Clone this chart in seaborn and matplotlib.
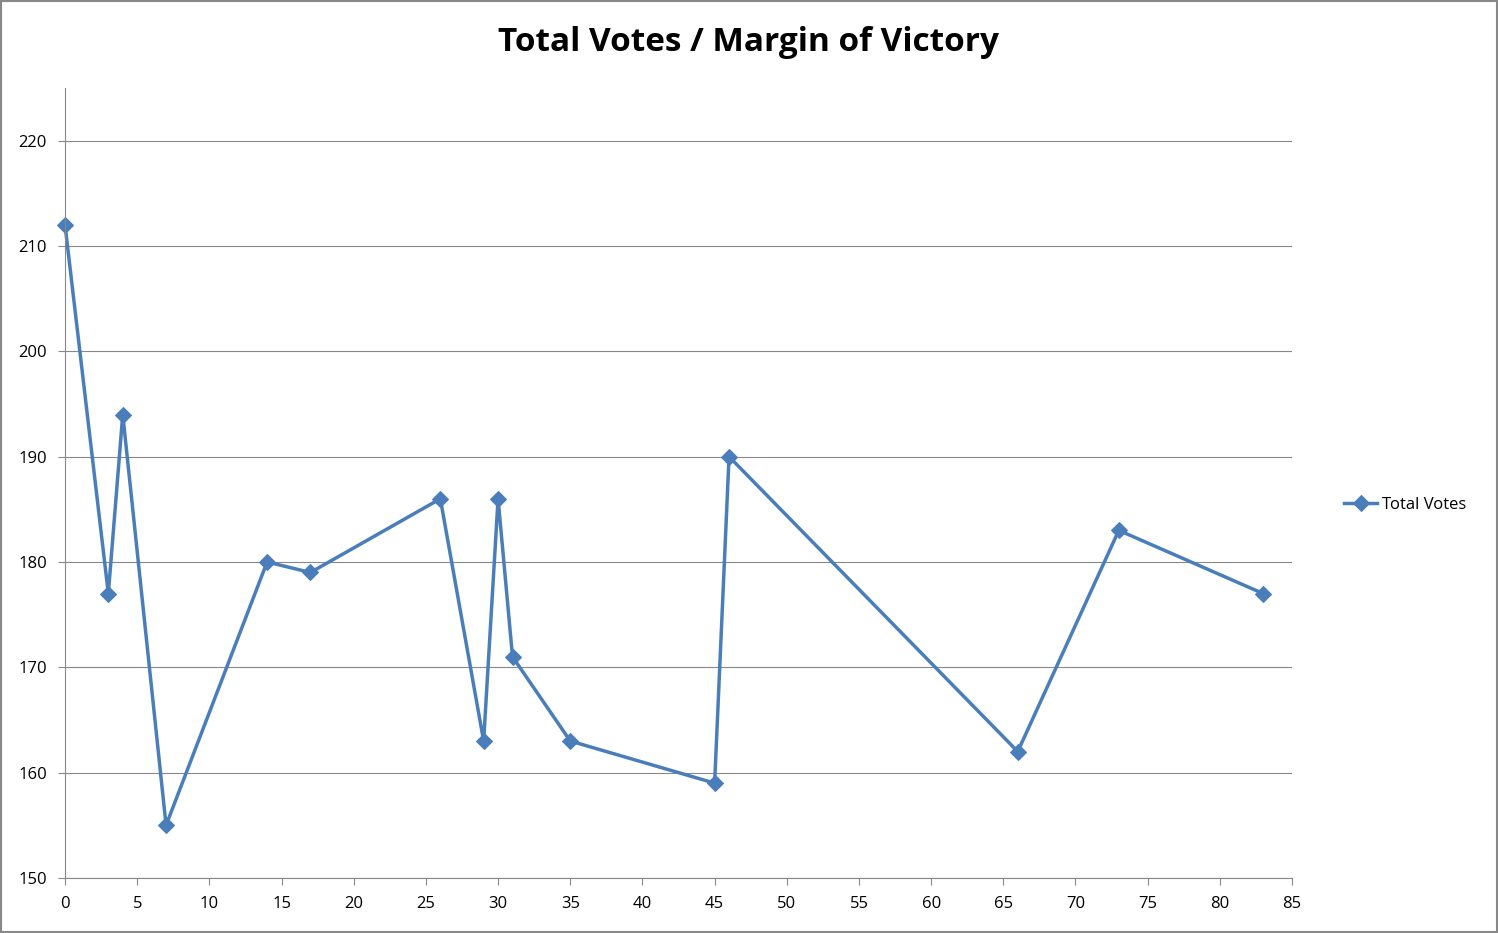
import matplotlib
matplotlib.use("Agg")
import matplotlib.pyplot as plt
import seaborn as sns
import pandas as pd

margin = [0, 3, 4, 7, 14, 17, 26, 29, 30, 31, 35, 45, 46, 66, 73, 83]
votes = [212, 177, 194, 155, 180, 179, 186, 163, 186, 171, 163, 159, 190, 162, 183, 177]
df = pd.DataFrame({"Margin": margin, "Total Votes": votes})

plt.rcParams["font.family"] = "Open Sans"
fig = plt.figure(figsize=(14.98, 9.33), dpi=100)
fig.patches.append(plt.Rectangle((0.001, 0.001), 0.998, 0.998, transform=fig.transFigure,
                                 fill=False, edgecolor="#888888", linewidth=1.5))
ax = fig.add_axes([0.0434, 0.059, 0.8191, 0.8467])
color = "#4A7EBB"
sns.lineplot(data=df, x="Margin", y="Total Votes", sort=False, ax=ax, color=color,
             linewidth=2.5, marker="D", markersize=8, markeredgecolor=color,
             label="Total Votes", clip_on=False)
ax.set_xlim(0, 85)
ax.set_ylim(150, 225)
ax.set_xticks(range(0, 86, 5))
ax.set_yticks(range(150, 221, 10))
ax.grid(axis="y", color="#888888", linewidth=0.8)
ax.set_axisbelow(True)
for s in ["top", "right"]:
    ax.spines[s].set_visible(False)
ax.spines["left"].set_color("#888888")
ax.spines["bottom"].set_color("#888888")
ax.tick_params(labelsize=12, color="#888888", length=5, pad=8)
ax.tick_params(axis="x", direction="out")
ax.set_xlabel("")
ax.set_ylabel("")
fig.suptitle("Total Votes / Margin of Victory", fontsize=24, fontweight="bold", y=0.972)
ax.legend(loc="center left", bbox_to_anchor=(1.03, 0.472), frameon=False, fontsize=12,
          handlelength=2, handletextpad=0.3)
fig.savefig("out.png", dpi=100)
